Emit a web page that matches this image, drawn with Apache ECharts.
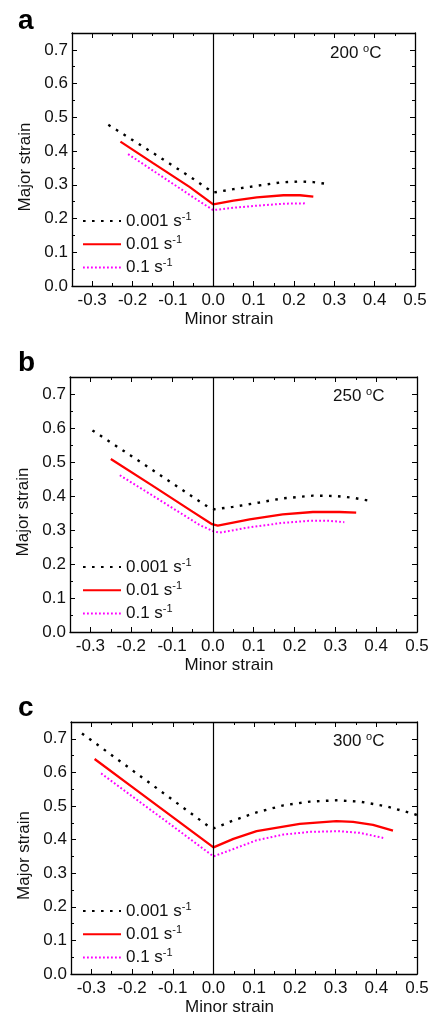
<!DOCTYPE html>
<html>
<head>
<meta charset="utf-8">
<script src="https://cdn.jsdelivr.net/npm/echarts@6/dist/echarts.min.js"></script>
<style>html,body{margin:0;padding:0;background:#fff;}#c{width:433px;height:1017px;}</style>
</head>
<body>
<div id="c"></div>
<script>
// ---- data ----
const panelLetters = ['a', 'b', 'c'];
const temperatures = ['200', '250', '300'];
const rateNames = ['0.001 s-1', '0.01 s-1', '0.1 s-1'];
const xTickValues = [-0.3, -0.2, -0.1, 0, 0.1, 0.2, 0.3, 0.4, 0.5];
const xMinorTickValues = [-0.35, -0.25, -0.15, -0.05, 0.05, 0.15, 0.25, 0.35, 0.45];
const yTickValues = [0, 0.1, 0.2, 0.3, 0.4, 0.5, 0.6, 0.7];
const yMinorTickValues = [0.05, 0.15, 0.25, 0.35, 0.45, 0.55, 0.65];

// 200 °C
const a_rate0001 = [[-0.26,0.478],[-0.15,0.395],[-0.05,0.318],[-0.016,0.29],[0,0.277],[0.05,0.287],[0.108,0.297],[0.166,0.307],[0.215,0.31],[0.248,0.308],[0.285,0.302]];
const a_rate001 = [[-0.23,0.428],[-0.15,0.365],[-0.058,0.293],[0,0.242],[0.05,0.253],[0.108,0.263],[0.174,0.269],[0.215,0.269],[0.248,0.265]];
const a_rate01 = [[-0.211,0.391],[-0.1,0.303],[-0.033,0.25],[0,0.225],[0.05,0.232],[0.108,0.238],[0.174,0.244],[0.228,0.245]];
// 250 °C
const b_rate0001 = [[-0.295,0.593],[-0.2,0.518],[-0.1,0.438],[-0.012,0.368],[0.004,0.361],[0.049,0.368],[0.114,0.381],[0.171,0.393],[0.245,0.401],[0.302,0.4],[0.342,0.395],[0.379,0.387]];
const b_rate001 = [[-0.25,0.509],[-0.15,0.432],[-0.05,0.354],[-0.002,0.317],[0.012,0.313],[0.09,0.331],[0.171,0.346],[0.245,0.353],[0.31,0.353],[0.351,0.351]];
const b_rate01 = [[-0.228,0.461],[-0.15,0.403],[-0.033,0.315],[0,0.297],[0.016,0.292],[0.09,0.308],[0.171,0.321],[0.237,0.327],[0.285,0.327],[0.322,0.323]];
// 300 °C
const c_rate0001 = [[-0.323,0.716],[-0.2,0.607],[-0.1,0.518],[-0.008,0.436],[0,0.433],[0.049,0.457],[0.106,0.481],[0.172,0.502],[0.237,0.513],[0.302,0.517],[0.36,0.513],[0.425,0.499],[0.49,0.477],[0.5,0.473]];
const c_rate001 = [[-0.292,0.64],[-0.2,0.557],[-0.1,0.467],[0,0.377],[0.049,0.402],[0.106,0.425],[0.212,0.447],[0.302,0.455],[0.343,0.453],[0.392,0.444],[0.441,0.427]];
const c_rate01 = [[-0.276,0.597],[-0.2,0.529],[-0.1,0.44],[0,0.35],[0.049,0.372],[0.106,0.398],[0.172,0.415],[0.237,0.423],[0.31,0.425],[0.36,0.42],[0.417,0.405]];

const panelData = [
  [a_rate0001, a_rate001, a_rate01],
  [b_rate0001, b_rate001, b_rate01],
  [c_rate0001, c_rate001, c_rate01]
];

// ---- layout / style ----
const FONT = '"Liberation Sans", Arial, Helvetica, sans-serif';
const grids = [
  {left: 72, top: 33, width: 343, height: 253},
  {left: 70, top: 377, width: 347, height: 255},
  {left: 71, top: 722, width: 346, height: 253}
];
const letterTops = [7, 349, 694];
const tempPos = [{left: 330, top: 43}, {left: 333, top: 386}, {left: 333, top: 731}];
const legendTops = [211, 557, 901];
const lineStyles = [
  {color: '#000000', width: 2.4, type: [2.6, 6.4]},
  {color: '#ff0000', width: 2.3, type: 'solid'},
  {color: '#ff00ff', width: 2, type: [1.8, 2.2]}
];

const axisLineStyle = {color: '#000', width: 1.3};
const labelStyle = {color: '#111', fontSize: 17, fontFamily: FONT};

function xAxes(g) {
  const base = {type: 'value', gridIndex: g, min: -0.35, max: 0.5, splitLine: {show: false}};
  return [
    Object.assign({}, base, {
      position: 'bottom',
      name: 'Minor strain', nameLocation: 'middle', nameGap: 25,
      nameTextStyle: {color: '#111', fontSize: 17, fontFamily: FONT, padding: [0, 29, 0, 0]},
      axisLine: {show: true, onZero: false, lineStyle: axisLineStyle},
      axisTick: {show: true, inside: true, length: 5, customValues: xTickValues, lineStyle: {color: '#000', width: 1}},
      axisLabel: Object.assign({show: true, margin: 6, customValues: xTickValues, formatter: v => v.toFixed(1)}, labelStyle)
    }),
    Object.assign({}, base, {
      position: 'bottom',
      axisLine: {show: false, onZero: false},
      axisTick: {show: true, inside: true, length: 3, customValues: xMinorTickValues, lineStyle: {color: '#000', width: 1}},
      axisLabel: {show: false}
    }),
    Object.assign({}, base, {
      position: 'top',
      axisLine: {show: true, onZero: false, lineStyle: axisLineStyle},
      axisTick: {show: true, inside: true, length: 5, customValues: xTickValues, lineStyle: {color: '#000', width: 1}},
      axisLabel: {show: false}
    }),
    Object.assign({}, base, {
      position: 'top',
      axisLine: {show: false, onZero: false},
      axisTick: {show: true, inside: true, length: 3, customValues: xMinorTickValues, lineStyle: {color: '#000', width: 1}},
      axisLabel: {show: false}
    })
  ];
}

function yAxes(g) {
  const base = {type: 'value', gridIndex: g, min: 0, max: 0.75, splitLine: {show: false}};
  return [
    Object.assign({}, base, {
      position: 'left',
      name: 'Major strain', nameLocation: 'middle', nameGap: 38,
      nameTextStyle: {color: '#111', fontSize: 17, fontFamily: FONT, padding: [0, 15, 0, 0]},
      axisLine: {show: true, onZero: false, lineStyle: axisLineStyle},
      axisTick: {show: true, inside: true, length: 5, customValues: yTickValues, lineStyle: {color: '#000', width: 1}},
      axisLabel: Object.assign({show: true, margin: 4, customValues: yTickValues, formatter: v => v.toFixed(1)}, labelStyle)
    }),
    Object.assign({}, base, {
      position: 'left',
      axisLine: {show: false, onZero: false},
      axisTick: {show: true, inside: true, length: 3, customValues: yMinorTickValues, lineStyle: {color: '#000', width: 1}},
      axisLabel: {show: false}
    }),
    Object.assign({}, base, {
      position: 'right',
      axisLine: {show: true, onZero: false, lineStyle: axisLineStyle},
      axisTick: {show: true, inside: true, length: 5, customValues: yTickValues, lineStyle: {color: '#000', width: 1}},
      axisLabel: {show: false}
    }),
    Object.assign({}, base, {
      position: 'right',
      axisLine: {show: false, onZero: false},
      axisTick: {show: true, inside: true, length: 3, customValues: yMinorTickValues, lineStyle: {color: '#000', width: 1}},
      axisLabel: {show: false}
    })
  ];
}

const option = {
  animation: false,
  backgroundColor: '#fff',
  grid: grids.map(g => Object.assign({containLabel: false, show: false}, g)),
  xAxis: [],
  yAxis: [],
  title: [],
  legend: [],
  series: []
};

for (let g = 0; g < 3; g++) {
  option.xAxis.push(...xAxes(g));
  option.yAxis.push(...yAxes(g));
  option.title.push({
    text: panelLetters[g], left: 18, top: letterTops[g], padding: 0,
    textStyle: {fontSize: 28, fontWeight: 'bold', color: '#000', fontFamily: FONT}
  });
  option.title.push({
    text: '{t|' + temperatures[g] + ' }{s|o}{t|C}', left: tempPos[g].left, top: tempPos[g].top, padding: 0,
    textStyle: {
      fontWeight: 'normal', fontFamily: FONT,
      rich: {
        t: {fontSize: 17, fontWeight: 'normal', fontFamily: FONT, color: '#111', lineHeight: 20},
        s: {fontSize: 11, fontWeight: 'normal', fontFamily: FONT, color: '#111', lineHeight: 7, verticalAlign: 'top'}
      }
    }
  });
  option.legend.push({
    data: rateNames, orient: 'vertical', left: 82, top: legendTops[g], padding: 0,
    itemWidth: 38, itemHeight: 14, itemGap: 4.7, selectedMode: false,
    itemStyle: {opacity: 0, borderWidth: 0},
    formatter: name => '{t|' + name.replace(' s-1', ' s') + '}{s|-1}',
    textStyle: {
      rich: {
        t: {fontSize: 17, fontFamily: FONT, color: '#111', lineHeight: 20},
        s: {fontSize: 11, fontFamily: FONT, color: '#111', lineHeight: 8, verticalAlign: 'top'}
      }
    }
  });
  for (let s = 0; s < 3; s++) {
    const ser = {
      type: 'line', name: rateNames[s], data: panelData[g][s],
      xAxisIndex: g * 4, yAxisIndex: g * 4,
      showSymbol: false, symbol: 'none', smooth: false, clip: true,
      lineStyle: Object.assign({cap: 'butt'}, lineStyles[s]),
      itemStyle: {color: lineStyles[s].color},
      z: 3 - s
    };
    if (s === 0) {
      ser.markLine = {
        silent: true, symbol: ['none', 'none'], label: {show: false},
        lineStyle: {color: '#000', type: 'solid', width: 1.2},
        data: [{xAxis: 0}]
      };
    }
    option.series.push(ser);
  }
}

const chart = echarts.init(document.getElementById('c'), null, {renderer: 'canvas'});
chart.setOption(option);
</script>
</body>
</html>
